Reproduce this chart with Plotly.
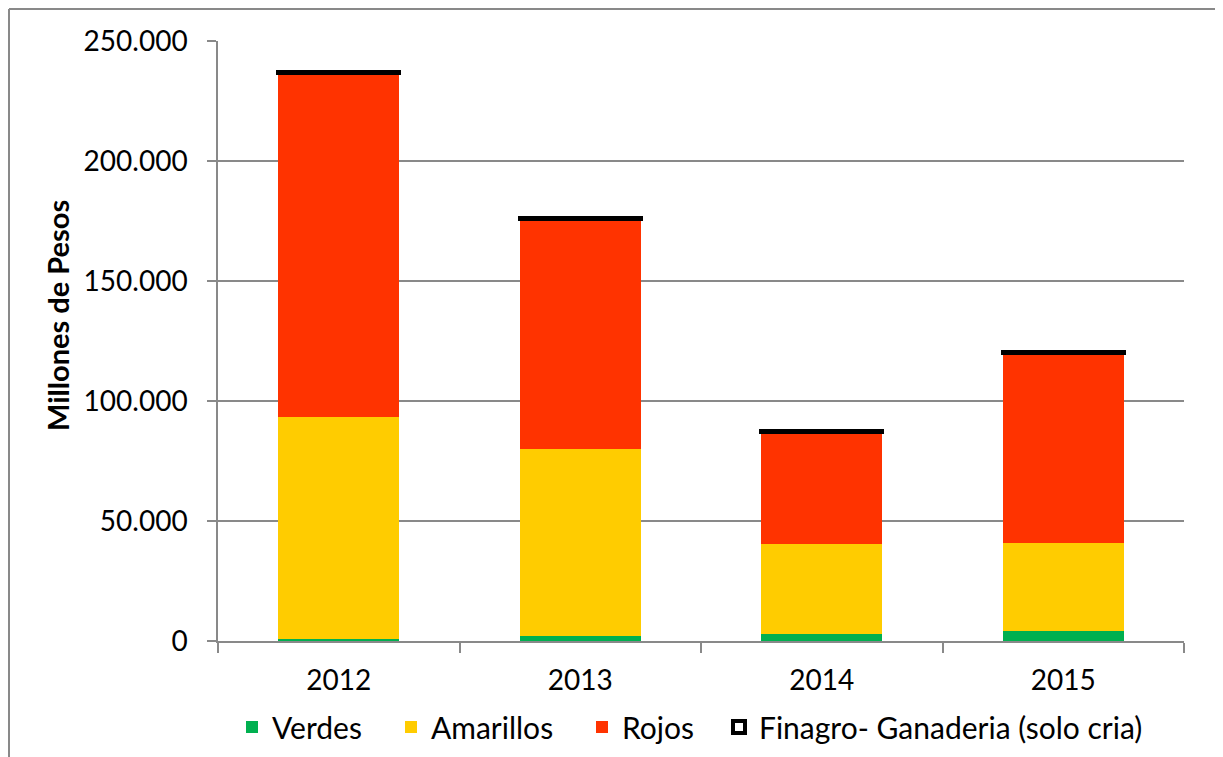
import plotly.graph_objects as go

years = ["2012", "2013", "2014", "2015"]
verdes = [1000, 2000, 3000, 4200]
amarillos = [92300, 78000, 37400, 36600]
rojos = [143400, 95800, 46700, 79300]
finagro = [500, 500, 500, 500]

FONT = "Lato"
OFF = 8  # page body margin
L, R, T, B = 218 - OFF, 47, 41 - OFF, 124
W, H = 1223, 757
pw, ph = W - L - R, H - T - B

def px_x(sx):
    return (sx - OFF - L) / pw

def px_y(sy):
    return (H - B - (sy - OFF)) / ph

fig = go.Figure()
fig.add_trace(go.Bar(name="Verdes", x=years, y=verdes, legend="legend", showlegend=True,
                     marker=dict(color="#00B050", line=dict(width=0))))
fig.add_trace(go.Bar(name="Amarillos", x=years, y=amarillos, legend="legend2", showlegend=True,
                     marker=dict(color="#FFCC00", line=dict(width=0))))
fig.add_trace(go.Bar(name="Rojos", x=years, y=rojos, legend="legend3", showlegend=True,
                     marker=dict(color="#FF3300", line=dict(width=0))))
fig.add_trace(go.Bar(name="Finagro- Ganaderia (solo cria)", x=years, y=finagro, legend="legend4",
                     showlegend=True,
                     marker=dict(color="white", line=dict(color="black", width=4))))

def leg(text_start):
    return dict(orientation="h", x=px_x(text_start - 40), xanchor="left", y=px_y(727), yanchor="middle",
                font=dict(size=30, family=FONT), itemwidth=30, bgcolor="rgba(0,0,0,0)")

fig.update_layout(
    width=W, height=H,
    showlegend=True,
    barmode="stack", bargap=0.5,
    separators=",.",
    plot_bgcolor="white", paper_bgcolor="white",
    margin=dict(l=L, r=R, t=T, b=B, pad=0, autoexpand=False),
    font=dict(family=FONT, size=28, color="black"),
    legend=leg(272), legend2=leg(431), legend3=leg(622), legend4=leg(759),
    yaxis=dict(range=[0, 250000], dtick=50000, tickformat=",d", showgrid=True, gridcolor="#898989",
               gridwidth=1.5, showline=True, linecolor="#898989", linewidth=1.5,
               ticks="outside", ticklen=9, tickcolor="#898989", tickwidth=1.5, zeroline=False,
               automargin=False, ticklabelstandoff=14, tickfont=dict(size=28)),
    xaxis=dict(showline=True, linecolor="#898989", linewidth=1.5, ticks="outside", tickson="boundaries",
               ticklen=10, tickcolor="#898989", tickwidth=1.5, tickfont=dict(size=28),
               automargin=False, ticklabelstandoff=14),
    annotations=[dict(text="<b>Millones de Pesos</b>", xref="paper", yref="paper",
                      x=px_x(57), y=px_y(316), xanchor="center", yanchor="middle",
                      textangle=-90, showarrow=False, font=dict(size=29, family=FONT))],
    shapes=[
        dict(type="line", xref="paper", yref="paper", x0=px_x(9), x1=px_x(9),
             y0=px_y(800), y1=px_y(9),
             line=dict(color="#898989", width=2)),
        dict(type="line", xref="paper", yref="paper", x0=px_x(9), x1=px_x(1300),
             y0=px_y(9), y1=px_y(9),
             line=dict(color="#898989", width=2)),
    ],
)
fig.write_html("out.html")
